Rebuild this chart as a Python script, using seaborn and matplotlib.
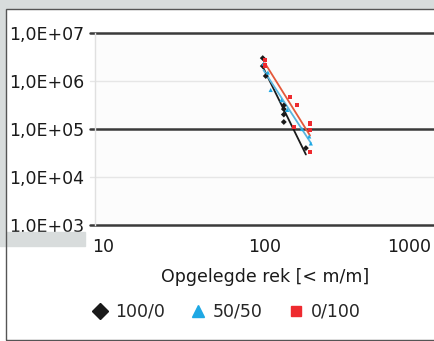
import numpy as np
import pandas as pd
import matplotlib
matplotlib.use("Agg")
import matplotlib.pyplot as plt
from matplotlib.patches import Rectangle
from matplotlib.transforms import ScaledTranslation
import seaborn as sns

# ---- data ----
mix_labels = ["100/0", "50/50", "0/100"]

strain_100_0 = [97, 97, 101, 129, 129, 129, 129, 174]
cycles_100_0 = [3.0e6, 2.05e6, 1.27e6, 3.1e5, 2.6e5, 2.0e5, 1.4e5, 4.0e4]

strain_50_50 = [98, 104, 108, 125, 135, 165, 182, 186]
cycles_50_50 = [2.3e6, 1.5e6, 6.5e5, 4.0e5, 2.5e5, 1.0e5, 7.0e4, 5.0e4]

strain_0_100 = [100, 100, 140, 148, 154, 184, 184, 184]
cycles_0_100 = [2.7e6, 2.1e6, 4.6e5, 1.1e5, 3.2e5, 1.3e5, 9.5e4, 3.3e4]

y_ticks = [1e3, 1e4, 1e5, 1e6, 1e7]
y_ticklabels = ["1,0E+03", "1,0E+04", "1,0E+05", "1,0E+06", "1,0E+07"]
x_ticks = [10, 100, 1000]
x_ticklabels = ["10", "100", "1000"]
x_label = "Opgelegde rek [< m/m]"

df = pd.concat([
    pd.DataFrame({"strain": strain_100_0, "cycles": cycles_100_0, "mix": mix_labels[0]}),
    pd.DataFrame({"strain": strain_50_50, "cycles": cycles_50_50, "mix": mix_labels[1]}),
    pd.DataFrame({"strain": strain_0_100, "cycles": cycles_0_100, "mix": mix_labels[2]}),
], ignore_index=True)

marker_colors = {"100/0": "#1a1a1a", "50/50": "#1ea8e4", "0/100": "#ee2a2f"}
line_colors = {"100/0": "#1a1a1a", "50/50": "#5ab6e0", "0/100": "#e4583a"}
markers = {"100/0": "D", "50/50": "^", "0/100": "s"}

sns.set_theme(style="white")
plt.rcParams["font.family"] = ["DejaVu Sans"]

FS = 12.5
W, H = 435, 341
fig = plt.figure(figsize=(W / 100, H / 100), dpi=100)
fig.patch.set_facecolor("white")

# background gray page pieces and chart frame
gray = "#d8dcdc"
fig.patches.append(Rectangle((0, 1 - 8 / H), 1, 8 / H, transform=fig.transFigure, color=gray, zorder=0))
fig.patches.append(Rectangle((0, 1 - 245 / H), 5 / W, 245 / H, transform=fig.transFigure, color=gray, zorder=0))
fig.patches.append(Rectangle((0, 1 - 246 / H), 85 / W, 14 / H, transform=fig.transFigure, color=gray, zorder=0))
fig.patches.append(Rectangle((6 / W, 1 / H), 1.0, 1 - 9 / H - 1 / H, transform=fig.transFigure,
                             fill=False, edgecolor="#555555", lw=1.0, zorder=1))

left, right = 95 / W, 435 / W
bottom, top = 1 - 225 / H, 1 - 33 / H
ax = fig.add_axes([left, bottom, right - left, top - bottom])
ax.set_facecolor("#fcfcfc")

sns.scatterplot(data=df, x="strain", y="cycles", hue="mix", style="mix",
                palette=marker_colors, markers=markers, s=9, linewidth=0,
                legend=False, ax=ax, zorder=4)

# power trend lines (fitted in log-log space)
for mix in mix_labels:
    sub = df[df["mix"] == mix]
    lx, ly = np.log10(sub["strain"]), np.log10(sub["cycles"])
    b, a = np.polyfit(lx, ly, 1)
    xs = np.array([sub["strain"].min(), sub["strain"].max()])
    ax.plot(xs, 10 ** (a + b * np.log10(xs)), color=line_colors[mix], lw=1.3, zorder=3)

ax.set_xscale("log")
ax.set_yscale("log")
ax.set_xlim(10, 1000)
ax.set_ylim(1e3, 1e7)

for yv in y_ticks:
    dark = yv in (1e3, 1e5, 1e7)
    ax.axhline(yv, xmin=-5 / (right - left) / W, xmax=1,
               color="#3a3a3a" if dark else "#e6e6e6",
               lw=1.8 if dark else 1.0, clip_on=False, zorder=2)

ax.set_yticks(y_ticks)
ax.set_yticklabels(y_ticklabels)
ax.set_xticks(x_ticks)
ax.set_xticklabels(x_ticklabels)
ax.minorticks_off()
ax.tick_params(axis="both", length=0, labelsize=FS, colors="#1a1a1a")
ax.tick_params(axis="y", pad=8)
ax.tick_params(axis="x", pad=9)
xt = ax.get_xticklabels()
xt[0].set_ha("left")
xt[0].set_transform(xt[0].get_transform() + ScaledTranslation(-3 / 100, 0, fig.dpi_scale_trans))
xt[-1].set_ha("right")
xt[-1].set_transform(xt[-1].get_transform() + ScaledTranslation(-4 / 100, 0, fig.dpi_scale_trans))

for s in ["top", "right", "bottom"]:
    ax.spines[s].set_visible(False)
ax.spines["left"].set_color("#e0e0e0")
ax.spines["left"].set_linewidth(1.0)

ax.set_xlabel(x_label, fontsize=FS, color="#1a1a1a", labelpad=9)
ax.set_ylabel("")

handles = [plt.Line2D([], [], marker=markers[m], color=marker_colors[m], linestyle="none",
                      markersize=8 if m != "0/100" else 7) for m in mix_labels]
fig.legend(handles, mix_labels, loc="center", bbox_to_anchor=(226 / W, 1 - 312 / H),
           ncol=3, frameon=False, fontsize=FS, handletextpad=0.35, columnspacing=1.4,
           handlelength=1.0)

fig.savefig("out.png", dpi=100)
